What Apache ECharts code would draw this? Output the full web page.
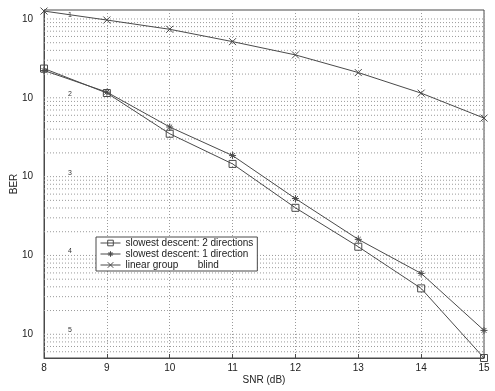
<!DOCTYPE html>
<html>
<head>
<meta charset="utf-8">
<script src="https://cdn.jsdelivr.net/npm/echarts@6/dist/echarts.min.js"></script>
<style>html,body{margin:0;padding:0;background:#fff}#c{width:495px;height:391px}</style>
</head>
<body>
<div id="c"></div>
<script>
// ---- data ----
const snr = [8, 9, 10, 11, 12, 13, 14, 15];
const berTwoDir = [0.0235, 0.0115, 0.00350, 0.00145, 0.000402, 0.000129, 0.0000382, 0.0000050];
const berOneDir = [0.0222, 0.0118, 0.00426, 0.00185, 0.000527, 0.000160, 0.0000592, 0.0000112];
const berBlind  = [0.126, 0.097, 0.074, 0.0516, 0.035, 0.0209, 0.01146, 0.00553];
const seriesNames = ['slowest descent: 2 directions', 'slowest descent: 1 direction', 'linear group       blind'];
const yMin = 5e-6, yMax = 0.13;
const decades = [-5, -4, -3, -2, -1];

// gridline values (decades and their 2..9 multiples inside the range)
const gridVals = [];
for (let k = -6; k <= -1; k++) {
  for (let m = 1; m <= 9; m++) {
    const v = m * Math.pow(10, k);
    if (v > yMin * 1.001 && v <= yMax) gridVals.push(v);
  }
}
const pairs = arr => snr.map((x, i) => [x, arr[i]]);
const isDecade = v => Math.abs(Math.log10(v) - Math.round(Math.log10(v))) < 1e-6 && decades.includes(Math.round(Math.log10(v)));

const LINE = '#4a4a4a';
const GRID = '#9a9a9a';
const FONT = 'Liberation Sans, Arial, sans-serif';
const starPath = 'path://M5,0L5,10M0,5L10,5M1.5,1.5L8.5,8.5M8.5,1.5L1.5,8.5';
const xPath = 'path://M0,0L10,10M10,0L0,10';
const markerStyle = { color: 'rgba(0,0,0,0)', borderColor: LINE, borderWidth: 1 };

const mkSeries = (name, arr, symbol) => ({
  name, type: 'line', data: pairs(arr), symbol, symbolSize: 7, z: 3,
  lineStyle: { color: LINE, width: 1 },
  itemStyle: markerStyle,
  emphasis: { disabled: true }, animation: false
});

const gridSeries = gridVals.map(v => ({
  type: 'line', data: [[snr[0], v], [snr[snr.length - 1], v]], symbol: 'none', silent: true, z: 1,
  lineStyle: { color: GRID, type: [1, 2], width: 1 }, emphasis: { disabled: true }, animation: false
}));

const chart = echarts.init(document.getElementById('c'), null, { renderer: 'canvas' });
chart.setOption({
  backgroundColor: '#fff',
  animation: false,
  textStyle: { fontFamily: FONT },
  grid: { left: 44, right: 11, top: 10, bottom: 33, containLabel: false, outerBoundsMode: 'none',
    show: true, borderColor: LINE, borderWidth: 1, backgroundColor: 'transparent' },
  legend: {
    orient: 'vertical', left: 96, top: 237,
    data: seriesNames,
    itemWidth: 20, itemHeight: 7, itemGap: 1,
    padding: [1, 4, 1, 4],
    borderColor: LINE, borderWidth: 1, backgroundColor: '#fff',
    itemStyle: markerStyle,
    lineStyle: { color: LINE, width: 1 },
    textStyle: { fontSize: 10, color: '#222', fontFamily: FONT, lineHeight: 8 },
    selectedMode: false, z: 10
  },
  xAxis: {
    type: 'value', min: 8, max: 15, interval: 1,
    name: 'SNR (dB)', nameLocation: 'middle', nameGap: 17, nameMoveOverlap: false,
    nameTextStyle: { fontSize: 10, color: '#222', fontFamily: FONT },
    axisLine: { lineStyle: { color: LINE } },
    axisTick: { inside: true, length: 4, lineStyle: { color: LINE } },
    axisLabel: { fontSize: 10, color: '#222', margin: 5, fontFamily: FONT },
    splitLine: { show: true, lineStyle: { color: GRID, type: [1, 2], width: 1 } }
  },
  yAxis: [{
    type: 'log', logBase: 10, min: yMin, max: yMax,
    name: 'BER', nameLocation: 'middle', nameGap: 25, nameMoveOverlap: false,
    nameTextStyle: { fontSize: 10, color: '#222', fontFamily: FONT },
    axisLine: { show: true, lineStyle: { color: LINE } },
    axisTick: { show: false },
    axisLabel: { fontSize: 10, color: '#222', margin: 11, fontFamily: FONT, showMinLabel: false, showMaxLabel: false,
      formatter: v => isDecade(v) ? '10' : '' },
    splitLine: { show: false }
  }, {
    type: 'log', logBase: 10, min: yMin, max: yMax, position: 'left',
    axisLine: { show: false }, axisTick: { show: false }, splitLine: { show: false },
    axisLabel: { inside: true, margin: 24, fontSize: 7, color: '#333', fontFamily: FONT, verticalAlign: 'bottom', lineHeight: 8,
      showMinLabel: false, showMaxLabel: false,
      formatter: v => isDecade(v) ? String(Math.abs(Math.round(Math.log10(v)))) : '' }
  }],
  series: gridSeries.concat([
    mkSeries(seriesNames[0], berTwoDir, 'rect'),
    mkSeries(seriesNames[1], berOneDir, starPath),
    mkSeries(seriesNames[2], berBlind, xPath)
  ])
});
</script>
</body>
</html>
